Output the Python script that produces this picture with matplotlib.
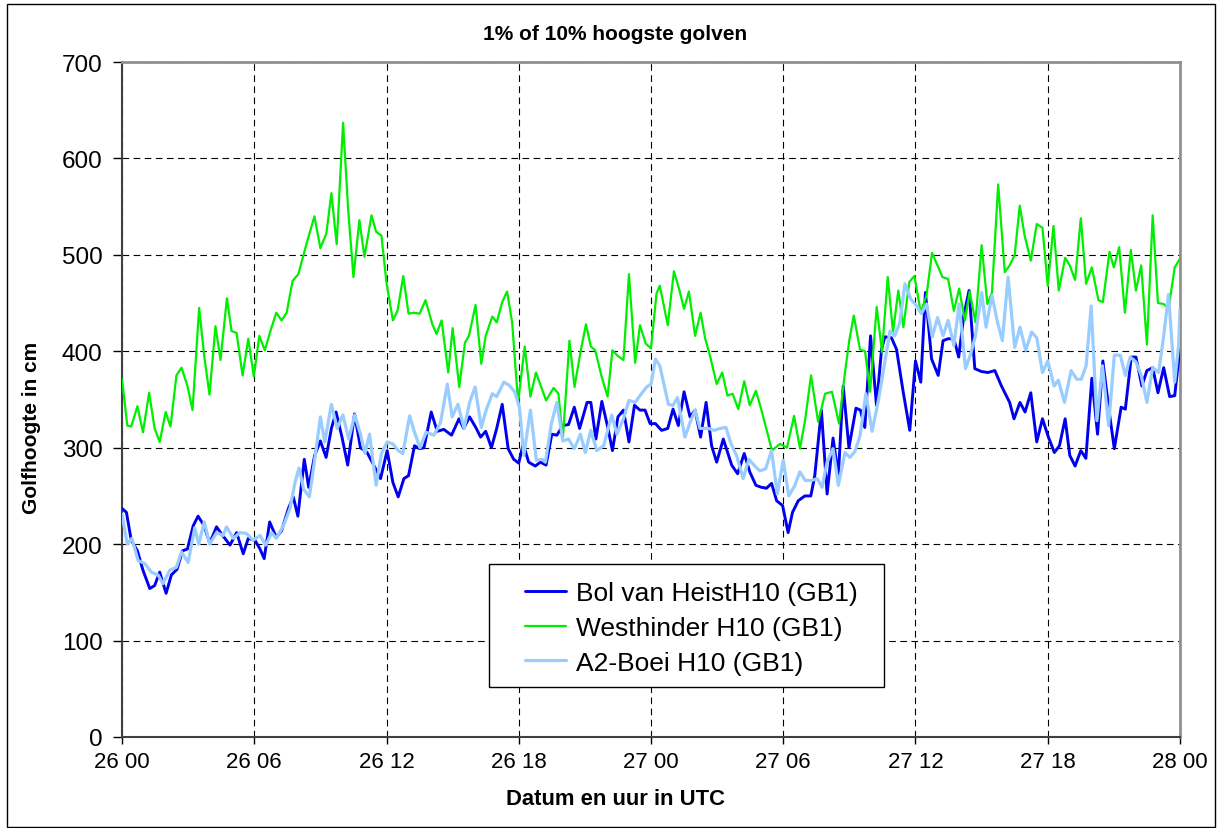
import matplotlib
matplotlib.use('Agg')
import matplotlib.pyplot as plt
from matplotlib.patches import Rectangle

plt.rcParams['font.family'] = ['Liberation Sans', 'DejaVu Sans']

# hours since 26 00 UTC and wave heights (cm)
hours_bol = [0, 0.2, 0.42, 0.7, 0.95, 1.26, 1.48, 1.71, 2.0, 2.24, 2.5, 2.74, 2.97, 3.23, 3.45, 3.73, 3.98,
             4.29, 4.5, 4.9, 5.2, 5.5, 5.73, 6.03, 6.26, 6.45, 6.7, 7.0, 7.24, 7.55, 7.77, 7.98, 8.27, 8.47,
             8.74, 9.0, 9.26, 9.5, 9.71, 9.98, 10.24, 10.55, 10.82, 11.12, 11.35, 11.73, 12.03, 12.29, 12.53,
             12.79, 13.0, 13.27, 13.5, 13.7, 14.03, 14.3, 14.6, 14.95, 15.29, 15.5, 15.77, 16.05, 16.27, 16.5,
             16.76, 17.0, 17.25, 17.52, 17.77, 18.0, 18.2, 18.45, 18.75, 18.98, 19.24, 19.5, 19.73, 20.0,
             20.26, 20.52, 20.76, 21.1, 21.27, 21.5, 21.77, 22.04, 22.25, 22.5, 22.75, 23.0, 23.25, 23.5,
             23.73, 23.96, 24.2, 24.48, 24.76, 25.0, 25.24, 25.5, 25.77, 26.0, 26.25, 26.5, 26.75, 26.98,
             27.28, 27.66, 27.93, 28.23, 28.48, 28.76, 29.0, 29.24, 29.47, 29.7, 29.97, 30.22, 30.42, 30.68,
             30.98, 31.25, 31.43, 31.73, 31.99, 32.26, 32.5, 32.72, 32.98, 33.3, 33.5, 33.7, 33.96, 34.23,
             34.46, 34.61, 34.91, 35.14, 35.44, 35.74, 36.0, 36.24, 36.45, 36.73, 37.03, 37.25, 37.48, 37.74,
             37.96, 38.19, 38.43, 38.69, 38.99, 39.29, 39.6, 39.9, 40.12, 40.27, 40.47, 40.74, 40.97, 41.23,
             41.5, 41.76, 42.03, 42.3, 42.53, 42.79, 43.0, 43.24, 43.5, 43.73, 44.0, 44.26, 44.5, 44.76,
             45.02, 45.33, 45.52, 45.79, 46.0, 46.27, 46.5, 46.76, 47.0, 47.26, 47.53, 47.76, 48.0]
bol = [237, 233, 204, 193, 173, 154, 157, 171, 149, 168, 174, 193, 195, 219, 229, 219, 201,
       218, 211, 199, 212, 190, 206, 204, 195, 185, 223, 207, 214, 237, 249, 229, 288, 259,
       292, 307, 290, 320, 337, 311, 282, 335, 300, 295, 285, 268, 297, 264, 249,
       268, 271, 302, 299, 300, 337, 317, 319, 313, 330, 320, 332, 321, 311, 317,
       300, 320, 345, 299, 288, 284, 304, 285, 281, 285, 282, 314, 313, 323,
       324, 342, 320, 347, 347, 309, 348, 321, 297, 332, 339, 306, 344, 339,
       339, 325, 325, 318, 320, 340, 323, 358, 332, 339, 311, 347, 302, 285,
       309, 282, 273, 294, 275, 261, 259, 258, 263, 245, 240, 212, 233, 245,
       250, 250, 271, 339, 252, 310, 271, 364, 300, 341, 339, 321, 416, 344,
       402, 415, 414, 402, 358, 318, 390, 368, 461, 392, 375, 411, 413, 413,
       394, 437, 463, 382, 379, 378, 380, 364, 354, 347, 330, 347, 337, 357,
       306, 330, 311, 295, 302, 330, 292, 281, 297, 289, 372, 314, 390, 342,
       299, 342, 340, 394, 394, 364, 380, 383, 357, 383, 353, 354, 404]

hours_west = [0, 0.24, 0.42, 0.7, 0.95, 1.23, 1.48, 1.71, 1.98, 2.2, 2.47, 2.7, 2.97, 3.2, 3.5, 3.73, 3.97,
              4.24, 4.47, 4.76, 4.97, 5.2, 5.47, 5.73, 5.98, 6.23, 6.48, 6.76, 7.0, 7.24, 7.47, 7.74, 8.0,
              8.39, 8.73, 9.0, 9.27, 9.5, 9.74, 10.03, 10.26, 10.5, 10.77, 11.0, 11.32, 11.53, 11.77, 12.0,
              12.29, 12.5, 12.76, 13.0, 13.24, 13.5, 13.77, 14.08, 14.27, 14.5, 14.8, 15.0, 15.3, 15.56,
              15.74, 16.04, 16.3, 16.5, 16.8, 17.0, 17.25, 17.47, 17.7, 17.97, 18.27, 18.53, 18.78, 19.0,
              19.24, 19.58, 19.8, 20.0, 20.3, 20.53, 20.8, 21.05, 21.27, 21.47, 21.77, 22.03, 22.25, 22.5,
              22.75, 23.0, 23.28, 23.5, 23.76, 24.0, 24.25, 24.4, 24.76, 25.04, 25.27, 25.5, 25.72, 26.0,
              26.25, 26.45, 26.67, 26.98, 27.23, 27.47, 27.7, 27.96, 28.23, 28.48, 28.76, 29.0, 29.49,
              29.85, 30.17, 30.49, 30.76, 31.0, 31.26, 31.58, 31.9, 32.21, 32.53, 32.8, 33.0, 33.2, 33.48,
              33.71, 33.94, 34.24, 34.48, 34.74, 34.98, 35.22, 35.45, 35.72, 35.95, 36.24, 36.5, 36.75,
              37.0, 37.22, 37.48, 37.74, 37.98, 38.24, 38.46, 38.72, 39.0, 39.26, 39.47, 39.75, 40.05,
              40.27, 40.5, 40.73, 40.95, 41.23, 41.5, 41.76, 42.0, 42.26, 42.5, 42.79, 43.0, 43.24, 43.5,
              43.74, 44.0, 44.3, 44.5, 44.8, 45.0, 45.24, 45.5, 45.77, 46.0, 46.24, 46.5, 46.76, 47.0,
              47.26, 47.48, 47.76, 48.0]
westhinder = [371, 323, 322, 343, 316, 357, 320, 306, 337, 322, 375, 383, 364, 339, 445, 395, 355,
              426, 391, 455, 421, 419, 375, 413, 374, 416, 401, 423, 440, 432, 440, 473, 480,
              513, 540, 507, 522, 564, 511, 637, 547, 477, 536, 498, 541, 524, 520, 471,
              432, 442, 478, 439, 440, 439, 453, 428, 418, 432, 378, 424, 363, 409,
              416, 448, 387, 416, 436, 430, 451, 462, 430, 347, 405, 353, 378, 364,
              349, 362, 356, 309, 411, 363, 399, 428, 405, 401, 373, 353, 401, 395,
              391, 480, 388, 427, 408, 403, 460, 468, 427, 483, 465, 444, 462, 416,
              440, 414, 396, 366, 378, 354, 356, 340, 369, 344, 359, 340, 297,
              304, 300, 333, 299, 330, 375, 327, 356, 358, 325, 378, 412, 437, 402,
              400, 358, 446, 399, 477, 420, 463, 425, 472, 478, 440, 458, 502,
              489, 477, 475, 442, 465, 432, 462, 430, 510, 449, 461, 573, 482,
              489, 500, 551, 520, 494, 532, 528, 468, 530, 463, 497, 489, 474, 538,
              470, 487, 453, 451, 503, 487, 508, 440, 505, 463, 489, 407, 541, 450,
              449, 444, 487, 496]

hours_a2 = [0, 0.24, 0.45, 0.73, 1.03, 1.33, 1.64, 1.86, 2.17, 2.47, 2.7, 3.0, 3.3, 3.48, 3.73, 3.98, 4.29,
            4.59, 4.74, 5.05, 5.35, 5.65, 5.95, 6.26, 6.52, 6.79, 7.0, 7.32, 7.62, 7.85, 8.03, 8.24, 8.5,
            8.77, 9.0, 9.2, 9.5, 9.76, 10.02, 10.29, 10.56, 10.82, 11.02, 11.23, 11.53, 11.77, 12.03,
            12.29, 12.53, 12.74, 13.05, 13.27, 13.52, 13.8, 14.15, 14.45, 14.76, 14.98, 15.24, 15.52,
            15.77, 16.02, 16.3, 16.52, 16.8, 17.0, 17.32, 17.55, 17.82, 18.03, 18.23, 18.53, 18.8, 19.06,
            19.21, 19.48, 19.73, 20.0, 20.26, 20.52, 20.8, 21.02, 21.27, 21.54, 21.85, 22.22, 22.45,
            22.75, 23.0, 23.28, 23.5, 23.8, 24.0, 24.2, 24.4, 24.79, 25.0, 25.2, 25.54, 25.77, 26.0,
            26.22, 26.6, 26.87, 27.13, 27.4, 27.63, 27.88, 28.18, 28.44, 28.71, 28.94, 29.2, 29.47,
            29.73, 30.0, 30.25, 30.53, 30.75, 31.0, 31.28, 31.54, 31.76, 31.99, 32.26, 32.5, 32.8, 33.02,
            33.25, 33.48, 33.75, 34.03, 34.3, 34.61, 34.84, 35.06, 35.29, 35.52, 35.79, 36.05, 36.27,
            36.5, 36.76, 37.0, 37.25, 37.48, 37.74, 37.98, 38.27, 38.5, 38.72, 39.0, 39.2, 39.47, 39.72,
            39.94, 40.2, 40.5, 40.74, 41.0, 41.27, 41.5, 41.76, 42.0, 42.29, 42.48, 42.76, 43.06, 43.32,
            43.52, 43.74, 43.97, 44.23, 44.48, 44.76, 45.02, 45.29, 45.52, 45.74, 46.0, 46.24, 46.5,
            46.76, 47.03, 47.26, 47.48, 47.76, 47.94, 48.0]
a2 = [231, 200, 206, 183, 180, 171, 168, 159, 173, 176, 192, 181, 217, 200, 223, 200, 212,
      209, 218, 206, 212, 211, 204, 209, 199, 212, 206, 219, 237, 264, 279, 257, 249,
      292, 332, 306, 345, 320, 334, 309, 334, 314, 294, 314, 261, 294, 306,
      304, 297, 294, 333, 316, 300, 316, 313, 326, 366, 332, 345, 320,
      347, 363, 321, 339, 356, 353, 368, 365, 358, 342, 292, 339, 287, 288,
      285, 325, 347, 307, 309, 299, 314, 295, 318, 297, 302, 334, 314,
      330, 349, 347, 354, 363, 366, 392, 385, 345, 344, 352, 311, 326, 339,
      320, 320, 318, 320, 321, 304, 292, 268, 288, 281, 276, 278, 297,
      252, 287, 250, 261, 275, 266, 266, 268, 259, 285, 299, 261, 295, 290,
      296, 312, 356, 317, 347, 389, 421, 416, 430, 470, 454, 447, 439,
      449, 415, 435, 416, 432, 406, 449, 382, 397, 416, 461, 425, 458, 430,
      411, 477, 404, 425, 401, 420, 414, 378, 390, 364, 370, 347, 380, 371,
      371, 385, 447, 328, 385, 323, 396, 396, 375, 394, 389, 375, 347,
      383, 378, 416, 459, 368, 407, 443]

tick_hours = [0, 6, 12, 18, 24, 30, 36, 42, 48]
tick_labels = ['26 00', '26 06', '26 12', '26 18', '27 00', '27 06', '27 12', '27 18', '28 00']

W, H = 1219, 829
fig = plt.figure(figsize=(W / 100, H / 100), dpi=100)
fig.patch.set_facecolor('white')
fig.add_artist(Rectangle((7 / W, 1 / H), 1208 / W, 823 / H, transform=fig.transFigure,
                         fill=False, edgecolor='black', linewidth=1))

ax = fig.add_axes([122 / W, (H - 738) / H, 1058 / W, 675 / H])
line_kw = dict(solid_joinstyle='round', solid_capstyle='round', zorder=3)
ax.plot(hours_bol, bol, color='#0000EE', lw=2.1, label='Bol van HeistH10 (GB1)', **line_kw)
ax.plot(hours_west, westhinder, color='#00EE00', lw=1.6, label='Westhinder H10 (GB1)', **line_kw)
ax.plot(hours_a2, a2, color='#99CCFF', lw=2.3, label='A2-Boei H10 (GB1)', **line_kw)

ax.set_xlim(0, 48)
ax.set_ylim(0, 700)
ax.set_xticks(tick_hours)
ax.set_xticklabels(tick_labels, fontsize=16)
ax.set_yticks(range(0, 701, 100))
ax.tick_params(axis='y', labelsize=17.5, direction='out', length=6.5, width=1, pad=7.5)
ax.tick_params(axis='x', direction='out', length=5, width=1, pad=5)
ax.grid(True, color='black', linestyle=(0, (6, 4)), linewidth=0.8)
ax.set_axisbelow(True)

for side in ['top', 'right']:
    ax.spines[side].set_color('#909090')
    ax.spines[side].set_linewidth(2)
ax.spines['left'].set_color('#404040')
ax.spines['left'].set_linewidth(1.5)
ax.spines['bottom'].set_color('#404040')
ax.spines['bottom'].set_linewidth(1.5)

fig.text(615 / W, 1 - 35 / H, '1% of 10% hoogste golven', fontsize=15, fontweight='bold',
         ha='center', va='center')
fig.text(32 / W, 1 - 428 / H, 'Golfhoogte in cm', fontsize=15, fontweight='bold',
         ha='center', va='center', rotation=90)
fig.text(615 / W, 1 - 800 / H, 'Datum en uur in UTC', fontsize=15.8, fontweight='bold',
         ha='center', va='center')

# legend: frame drawn separately so the padding matches the original box
ax.add_patch(Rectangle((367 / 1058, 50 / 675), 395 / 1058, 123 / 675, transform=ax.transAxes,
                       facecolor='white', edgecolor='black', linewidth=1, zorder=4))
leg = ax.legend(loc='upper left', bbox_to_anchor=(403 / 1058, 156 / 675), fontsize=19,
                frameon=False, handlelength=1.55, handletextpad=0.4, borderpad=0,
                borderaxespad=0, labelspacing=0.41)
leg.set_zorder(5)

fig.savefig('out.png', dpi=100)
